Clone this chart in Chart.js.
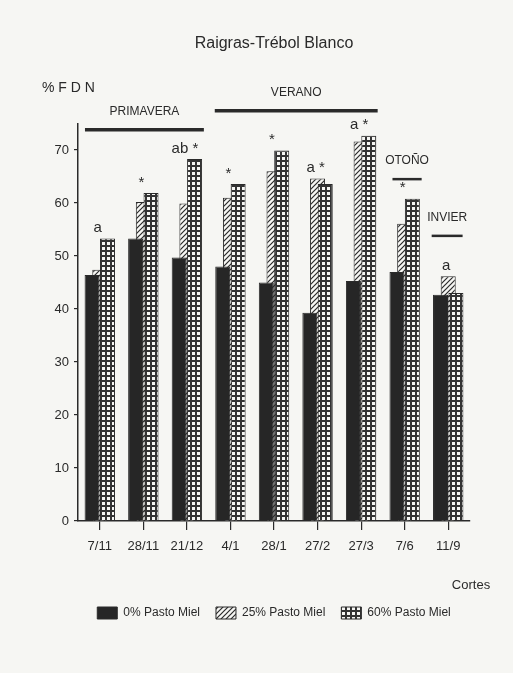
<!DOCTYPE html>
<html>
<head>
<meta charset="utf-8">
<script src="https://cdn.jsdelivr.net/npm/chart.js@4"></script>
<style>
  html, body { margin: 0; padding: 0; background: #f6f6f3; }
  #wrap { width: 513px; height: 673px; }
</style>
</head>
<body>
<div id="wrap"><canvas id="c"></canvas></div>
<script>
// Cutting dates and NDF (% FDN) per treatment
const categories = ['7/11', '28/11', '21/12', '4/1', '28/1', '27/2', '27/3', '7/6', '11/9'];
const seriesNames = ['0% Pasto Miel', '25% Pasto Miel', '60% Pasto Miel'];
const pasto0  = [46.4, 53.3, 49.7, 48.0, 45.0, 39.3, 45.3, 47.0, 42.7];
const pasto25 = [47.4, 60.2, 59.9, 61.0, 66.0, 64.6, 71.6, 56.1, 46.2];
const pasto60 = [53.3, 61.9, 68.3, 63.6, 69.9, 63.6, 72.7, 60.8, 43.0];
const significance = ['a', '*', 'ab *', '*', '*', 'a *', 'a *', '*', 'a'];
const seasons = ['PRIMAVERA', 'VERANO', 'OTOÑO', 'INVIER'];
const yTickValues = [0, 10, 20, 30, 40, 50, 60, 70];

const FONT = "'Liberation Sans', Arial, sans-serif";
const INK = '#2a2a2a';
const PAPER = '#f6f6f3';

function hatchPattern() {
  const c = document.createElement('canvas');
  c.width = 5; c.height = 5;
  const g = c.getContext('2d');
  g.fillStyle = PAPER; g.fillRect(0, 0, 5, 5);
  g.strokeStyle = INK; g.lineWidth = 1.2;
  g.beginPath();
  g.moveTo(-1, 6); g.lineTo(6, -1);
  g.moveTo(-1, 1); g.lineTo(1, -1);
  g.moveTo(4, 6); g.lineTo(6, 4);
  g.stroke();
  return g.createPattern(c, 'repeat');
}

function gridPattern() {
  const c = document.createElement('canvas');
  c.width = 5; c.height = 5;
  const g = c.getContext('2d');
  g.fillStyle = '#333'; g.fillRect(0, 0, 5, 5);
  g.fillStyle = PAPER; g.fillRect(2, 2, 3, 3);
  return g.createPattern(c, 'repeat');
}

// paper background
const paper = {
  id: 'paper',
  beforeDraw(chart) {
    const { ctx, width, height } = chart;
    ctx.save();
    ctx.fillStyle = PAPER;
    ctx.fillRect(0, 0, width, height);
    ctx.restore();
  }
};

// the striped series sits behind its two neighbours
const barLayering = {
  id: 'barLayering',
  beforeDatasetsDraw(chart) {
    [1, 0, 2].forEach(i => {
      const meta = chart.getDatasetMeta(i);
      if (!meta.hidden) meta.controller.draw();
    });
    return false;
  }
};

// season bars, axis captions and significance marks
const annotations = {
  id: 'annotations',
  afterDraw(chart, args, opts) {
    const { ctx, chartArea } = chart;
    const x = chart.scales.x, y = chart.scales.y;
    ctx.save();
    ctx.fillStyle = INK;
    ctx.strokeStyle = INK;

    ctx.font = `14px ${FONT}`;
    ctx.textAlign = 'left';
    ctx.textBaseline = 'middle';
    ctx.fillText('% F D N', chartArea.left - 36, chartArea.top - 35);
    ctx.font = `13px ${FONT}`;
    ctx.textAlign = 'center';
    ctx.fillText('Cortes', chartArea.right + 1, chartArea.bottom + 64);

    opts.seasonSpans.forEach((s, i) => {
      const x0 = x.getPixelForValue(s.from);
      const x1 = x.getPixelForValue(s.to);
      const yy = y.getPixelForValue(s.level);
      ctx.lineWidth = s.weight;
      ctx.beginPath();
      ctx.moveTo(x0, yy);
      ctx.lineTo(x1, yy);
      ctx.stroke();
      ctx.font = `12px ${FONT}`;
      ctx.textBaseline = 'middle';
      ctx.fillText(seasons[i], (x0 + x1) / 2, yy - 18);
    });

    ctx.font = `15px ${FONT}`;
    ctx.textBaseline = 'bottom';
    significance.forEach((txt, i) => {
      const top = Math.max(pasto25[i], pasto60[i]);
      ctx.fillText(txt, x.getPixelForValue(i) - 2, y.getPixelForValue(top) - 3);
    });
    ctx.restore();
  }
};

const tickFont = { family: FONT, size: 13 };

new Chart(document.getElementById('c'), {
  type: 'bar',
  data: {
    labels: categories,
    datasets: [
      { label: seriesNames[0], data: pasto0, backgroundColor: '#262626', borderColor: INK, borderWidth: 1 },
      { label: seriesNames[1], data: pasto25, backgroundColor: hatchPattern(), borderColor: INK, borderWidth: 1 },
      { label: seriesNames[2], data: pasto60, backgroundColor: gridPattern(), borderColor: INK, borderWidth: 1 }
    ]
  },
  options: {
    responsive: true,
    maintainAspectRatio: false,
    animation: false,
    devicePixelRatio: 1,
    categoryPercentage: 0.53,
    barPercentage: 1.95,
    layout: { padding: { top: 0, left: 0, right: 43, bottom: 44 } },
    plugins: {
      title: {
        display: true,
        fullSize: false,
        text: 'Raigras-Trébol Blanco',
        color: INK,
        font: { family: FONT, size: 16, weight: 'normal', lineHeight: 1.2 },
        padding: { top: 34, bottom: 70.3 }
      },
      legend: {
        position: 'bottom',
        fullSize: false,
        labels: {
          color: INK,
          font: { family: FONT, size: 12 },
          boxWidth: 20,
          boxHeight: 12,
          padding: 16
        }
      },
      tooltip: { enabled: false },
      annotations: {
        seasonSpans: [
          { from: -0.34, to: 2.39, level: 73.8, weight: 3.5 },
          { from: 2.64, to: 6.38, level: 77.4, weight: 3.5 },
          { from: 6.72, to: 7.39, level: 64.5, weight: 2.5 },
          { from: 7.62, to: 8.33, level: 53.8, weight: 2.5 }
        ]
      }
    },
    scales: {
      x: {
        offset: true,
        afterFit(scale) { scale.height = 70; },
        grid: { display: true, drawOnChartArea: false, drawTicks: true, tickLength: 9, offset: false, color: INK, lineWidth: 1.2 },
        border: { display: true, color: INK, width: 1.5 },
        ticks: { color: INK, font: tickFont, padding: 9, maxRotation: 0, autoSkip: false }
      },
      y: {
        min: 0,
        max: 75,
        afterFit(scale) { scale.width = 78; },
        afterBuildTicks(scale) { scale.ticks = yTickValues.map(v => ({ value: v })); },
        grid: { display: true, drawOnChartArea: false, drawTicks: true, tickLength: 4, color: INK, lineWidth: 1.2 },
        border: { display: true, color: INK, width: 1.5 },
        ticks: { color: INK, font: tickFont, padding: 5 }
      }
    }
  },
  plugins: [paper, barLayering, annotations]
});
</script>
</body>
</html>
